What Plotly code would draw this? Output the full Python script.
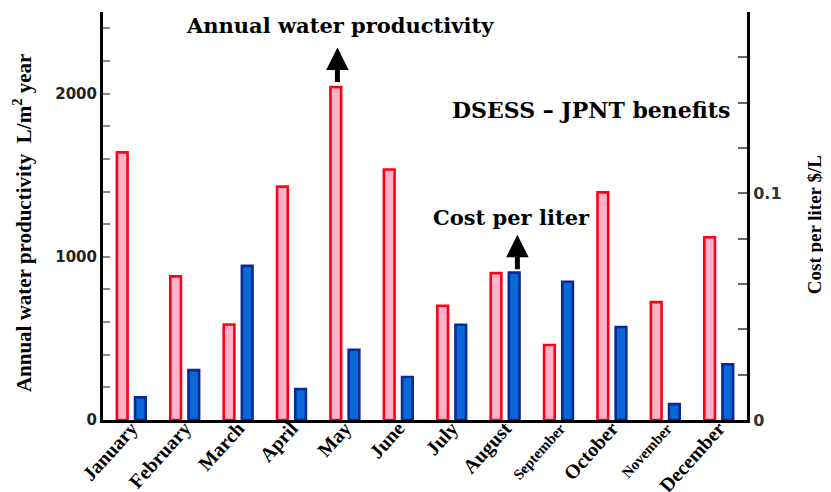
import plotly.graph_objects as go

months = ["January", "February", "March", "April", "May", "June", "July",
          "August", "September", "October", "November", "December"]
month_labels = ["January", "February", "March", "April", "May", "June", "July",
                "August", "<span style='font-size:15px'>September</span>", "October",
                "<span style='font-size:15px'>November</span>", "December"]
water_productivity = [1640, 880, 585, 1430, 2040, 1535, 700, 900, 460, 1395, 722, 1120]
cost_per_liter = [0.010, 0.022, 0.068, 0.0136, 0.031, 0.019, 0.042, 0.065, 0.061, 0.041, 0.007, 0.0246]

left_tickvals = list(range(0, 2500, 200))
left_ticktext = [str(v) if v in (0, 1000, 2000) else "" for v in left_tickvals]
right_tickvals = [round(i * 0.02, 2) for i in range(10)]
right_ticktext = ["0" if v == 0 else ("0.1" if abs(v - 0.1) < 1e-9 else "") for v in right_tickvals]

fig = go.Figure()
fig.add_trace(go.Bar(
    x=months, y=water_productivity, yaxis="y",
    width=0.2, offset=-0.27,
    marker=dict(color="#ffb3cb", line=dict(color="#ff0018", width=2.6)),
    showlegend=False,
))
fig.add_trace(go.Bar(
    x=months, y=cost_per_liter, yaxis="y2",
    width=0.2, offset=0.07,
    marker=dict(color="#0a68d6", line=dict(color="#0a2a96", width=2.6)),
    showlegend=False,
))

serif_bold = dict(family="Liberation Serif", color="black", weight="bold")
fig.update_layout(
    width=823, height=484,
    margin=dict(l=95, r=84, t=4, b=72, autoexpand=False),
    paper_bgcolor="white", plot_bgcolor="white",
    barmode="overlay",
    xaxis=dict(
        type="category", range=[-0.53, 11.53],
        tickvals=months, ticktext=month_labels,
        showline=True, linecolor="black", linewidth=2.5,
        ticks="", tickangle=-48, showgrid=False,
        ticklabelstandoff=-14,
        tickfont=dict(serif_bold, size=20),
        automargin=False,
    ),
    yaxis=dict(
        range=[0, 2500], tickvals=left_tickvals, ticktext=left_ticktext,
        showline=True, linecolor="black", linewidth=3,
        ticks="inside", ticklen=7, tickcolor="#888", tickwidth=1.5,
        showgrid=False, zeroline=False,
        tickfont=dict(family="DejaVu Sans", size=15, color="#222", weight="bold"),
        automargin=False,
    ),
    yaxis2=dict(
        range=[0, 0.18], overlaying="y", side="right",
        tickvals=right_tickvals, ticktext=right_ticktext,
        showline=True, linecolor="black", linewidth=3,
        ticks="inside", ticklen=9, tickcolor="#666", tickwidth=1.5,
        showgrid=False, zeroline=False,
        tickfont=dict(family="DejaVu Sans", size=16, color="#333", weight="bold"),
        automargin=False,
    ),
)

ann_font = dict(family="DejaVu Serif", size=21, color="black", weight="bold")
fig.add_annotation(text="Annual water productivity", xref="paper", yref="paper",
                   x=0.368, y=0.968, showarrow=False, font=ann_font,
                   xanchor="center", yanchor="middle")
fig.add_annotation(text="DSESS \u2013 JPNT benefits", xref="paper", yref="paper",
                   x=0.758, y=0.760, showarrow=False, font=dict(ann_font, size=22),
                   xanchor="center", yanchor="middle")
fig.add_annotation(text="Cost per liter", xref="paper", yref="paper",
                   x=0.634, y=0.4975, showarrow=False, font=ann_font,
                   xanchor="center", yanchor="middle")

# arrows
fig.add_annotation(text="", xref="x", yref="y", x=3.86, y=2282, ax=0, ay=36,
                   showarrow=True, arrowhead=2, arrowsize=0.9, arrowwidth=5,
                   arrowcolor="black")
fig.add_annotation(text="", xref="x", yref="y", x=7.23, y=1135, ax=0, ay=36,
                   showarrow=True, arrowhead=2, arrowsize=0.9, arrowwidth=5,
                   arrowcolor="black")

# axis titles
fig.add_annotation(text="Annual water productivity  L/m<sup>2</sup> year",
                   xref="paper", yref="paper", x=-0.124, y=0.483,
                   textangle=-90, showarrow=False,
                   font=dict(serif_bold, size=21),
                   xanchor="center", yanchor="middle")
fig.add_annotation(text="Cost per liter $/L",
                   xref="paper", yref="paper", x=1.106, y=0.478,
                   textangle=-90, showarrow=False,
                   font=dict(serif_bold, size=19),
                   xanchor="center", yanchor="middle")

fig.write_html("out.html")
